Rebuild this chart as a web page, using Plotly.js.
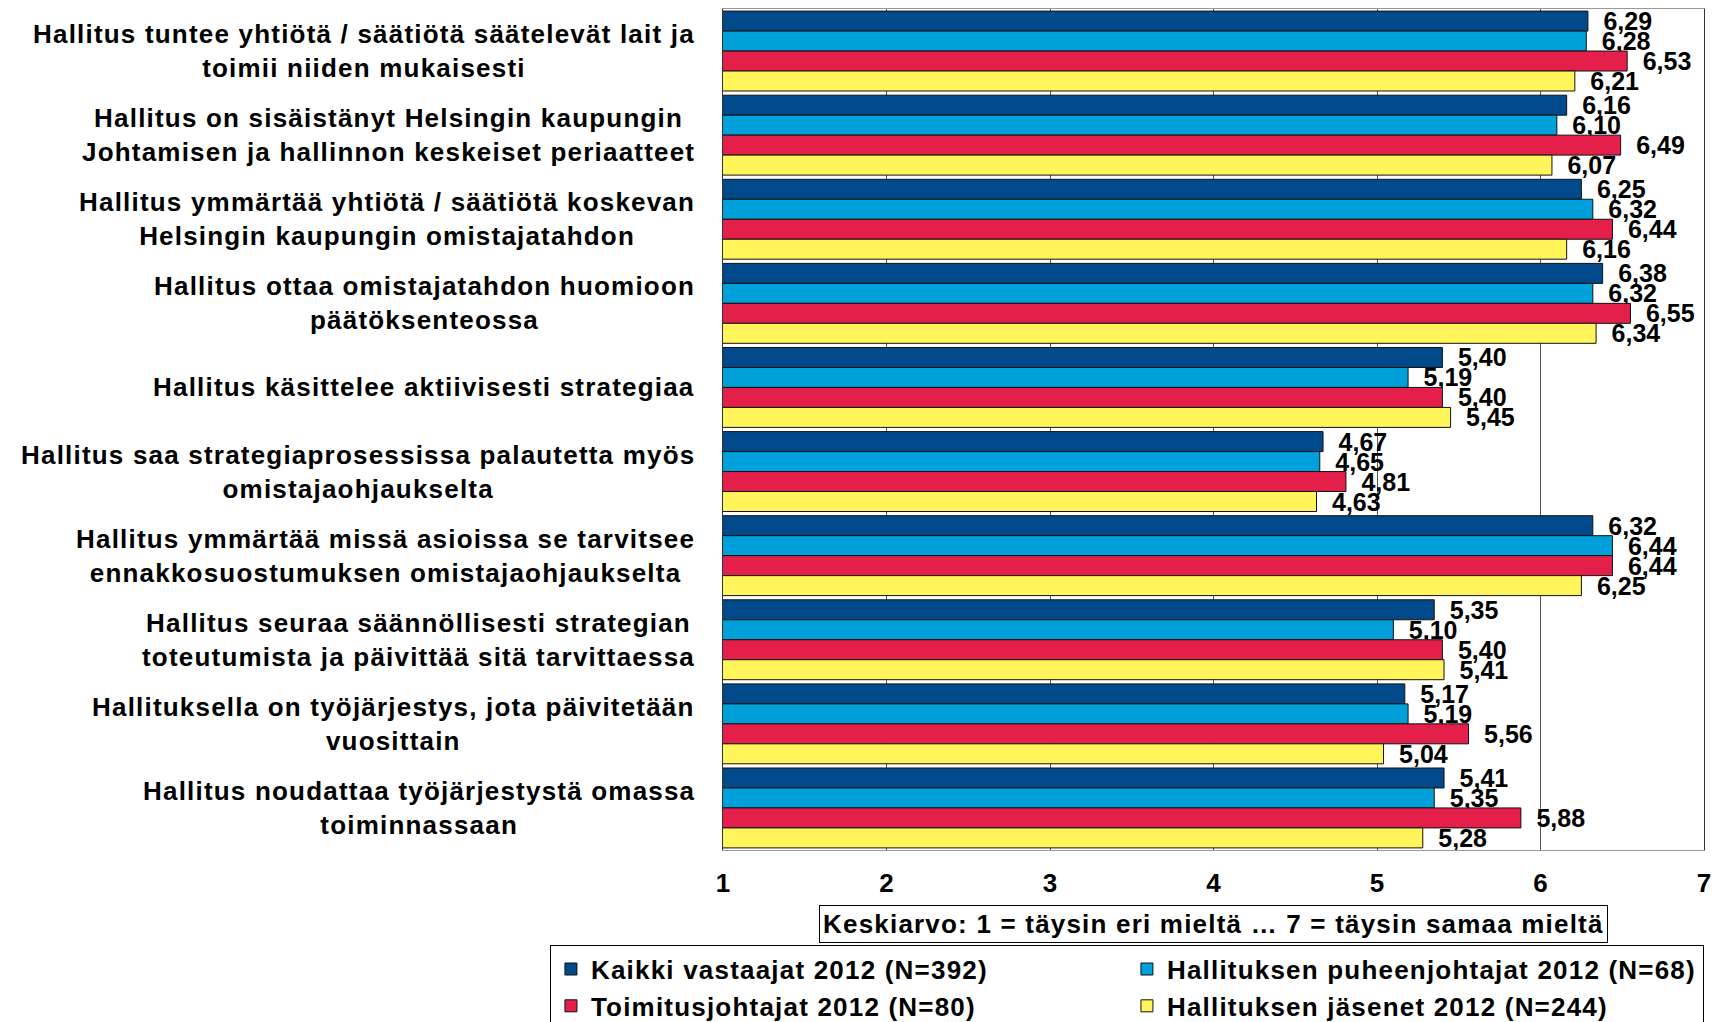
<!DOCTYPE html>
<html>
<head>
<meta charset="utf-8">
<script src="https://cdn.plot.ly/plotly-3.0.1.min.js"></script>
<style>
html,body{margin:0;padding:0;background:#fff;}
#chart{width:1713px;height:1022px;}
.annotation-text, .legendtext { letter-spacing: 1.2px; }
</style>
</head>
<body>
<div id="chart"></div>
<script>
const categories = [
  "Hallitus tuntee yhtiötä / säätiötä säätelevät lait ja<br>toimii niiden mukaisesti",
  "Hallitus on sisäistänyt Helsingin kaupungin<br>Johtamisen ja hallinnon keskeiset periaatteet",
  "Hallitus ymmärtää yhtiötä / säätiötä koskevan<br>Helsingin kaupungin omistajatahdon",
  "Hallitus ottaa omistajatahdon huomioon<br>päätöksenteossa",
  "Hallitus käsittelee aktiivisesti strategiaa",
  "Hallitus saa strategiaprosessissa palautetta myös<br>omistajaohjaukselta",
  "Hallitus ymmärtää missä asioissa se tarvitsee<br>ennakkosuostumuksen omistajaohjaukselta",
  "Hallitus seuraa säännöllisesti strategian<br>toteutumista ja päivittää sitä tarvittaessa",
  "Hallituksella on työjärjestys, jota päivitetään<br>vuosittain",
  "Hallitus noudattaa työjärjestystä omassa<br>toiminnassaan"
];
const seriesNames = [
  "Kaikki vastaajat 2012 (N=392)",
  "Hallituksen puheenjohtajat 2012 (N=68)",
  "Toimitusjohtajat 2012 (N=80)",
  "Hallituksen jäsenet 2012 (N=244)"
];
const kaikki = [6.29, 6.16, 6.25, 6.38, 5.40, 4.67, 6.32, 5.35, 5.17, 5.41];
const puheenjohtajat = [6.28, 6.10, 6.32, 6.32, 5.19, 4.65, 6.44, 5.10, 5.19, 5.35];
const toimitusjohtajat = [6.53, 6.49, 6.44, 6.55, 5.40, 4.81, 6.44, 5.40, 5.56, 5.88];
const jasenet = [6.21, 6.07, 6.16, 6.34, 5.45, 4.63, 6.25, 5.41, 5.04, 5.28];
const xTicks = [1, 2, 3, 4, 5, 6, 7];
const axisNote = "Keskiarvo: 1 = täysin eri mieltä … 7 = täysin samaa mieltä";

const colors = ["#004A8C", "#00A0DA", "#E41F4A", "#FFF55A"];
const allSeries = [kaikki, puheenjohtajat, toimitusjohtajat, jasenet];
const FONT = "Liberation Sans, Arial, sans-serif";

const traces = allSeries.map((vals, i) => ({
  type: "bar",
  orientation: "h",
  name: seriesNames[i],
  y: categories,
  x: vals,
  base: 0,
  marker: {color: colors[i], line: {color: "#111", width: 1}},
  texttemplate: "\u2002%{x:.2f}",
  textposition: "outside",
  constraintext: "none",
  cliponaxis: false,
  textfont: {family: FONT, size: 25, color: "#000", weight: "bold"},
  hoverinfo: "x+name"
}));

const annotations = categories.map(c => ({
  xref: "paper", yref: "y",
  x: -0.026, y: c,
  xanchor: "right", yanchor: "middle",
  align: "center",
  text: c,
  showarrow: false,
  font: {family: FONT, size: 26, color: "#000", weight: "bold"}
}));
annotations.push({
  xref: "paper", yref: "paper",
  x: 0.4995, y: -0.0654,
  xanchor: "center", yanchor: "top",
  text: axisNote,
  showarrow: false,
  bordercolor: "#000", borderwidth: 1, borderpad: 3,
  bgcolor: "#fff",
  font: {family: FONT, size: 26, color: "#000", weight: "bold"}
});

const layout = {
  width: 1713, height: 1022,
  margin: {l: 723, r: 9, t: 9, b: 172, autoexpand: false},
  paper_bgcolor: "#fff", plot_bgcolor: "#fff",
  separators: ", ",
  barmode: "group",
  bargap: 0.05,
  bargroupgap: 0,
  showlegend: true,
  font: {family: FONT, color: "#000"},
  xaxis: {
    range: [1, 7],
    tickvals: xTicks,
    ticktext: xTicks.map(String),
    ticks: "outside", ticklen: 10, tickcolor: "rgba(0,0,0,0)",
    showgrid: true, gridcolor: "#555", gridwidth: 1,
    showline: true, linecolor: "#999", linewidth: 1, mirror: true,
    zeroline: false,
    automargin: false,
    tickfont: {family: FONT, size: 26, color: "#000", weight: "bold"},
    fixedrange: true
  },
  yaxis: {
    autorange: "reversed",
    showticklabels: false,
    ticks: "",
    showgrid: false,
    automargin: false,
    showline: true, linecolor: "#333", linewidth: 1, mirror: true,
    fixedrange: true
  },
  legend: {
    orientation: "h",
    x: -0.1764, xanchor: "left",
    y: -0.1125, yanchor: "top",
    entrywidth: 531, entrywidthmode: "pixels",
    itemwidth: 30,
    traceorder: "normal",
    bordercolor: "#000", borderwidth: 1,
    bgcolor: "#fff",
    font: {family: FONT, size: 26, color: "#000", weight: "bold"}
  },
  annotations: annotations
};

Plotly.newPlot("chart", traces, layout, {displayModeBar: false, staticPlot: true});
</script>
</body>
</html>
